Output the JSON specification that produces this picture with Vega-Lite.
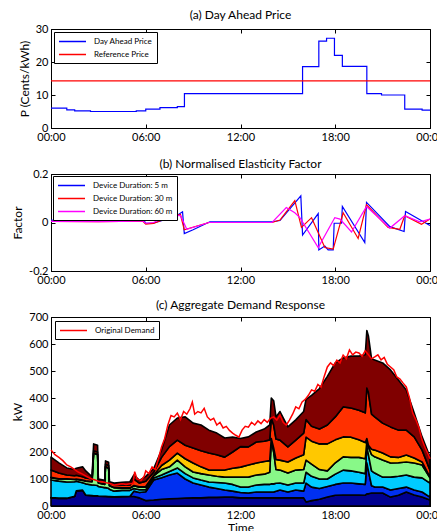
{
  "$schema": "https://vega.github.io/schema/vega-lite/v6.json",
  "autosize": {"type": "none"},
  "padding": {"left": 51, "top": 29, "right": 386, "bottom": 502},
  "bounds": "flush",
  "spacing": 46,
  "resolve": {"scale": {"color": "independent"}, "legend": {"color": "independent"}},
  "config": {
    "font": "Lato",
    "background": "white",
    "view": {"stroke": "black", "strokeWidth": 1},
    "axis": {"domainColor": "black", "tickColor": "black", "labelColor": "black", "titleColor": "black", "labelFontSize": 11, "titleFontSize": 12, "titleFontWeight": "normal", "grid": false, "tickSize": -4, "labelPadding": 7, "labelFont": "Lato", "titleFont": "Lato", "labelFlush": false, "labelOverlap": false},
    "title": {"fontSize": 12, "fontWeight": "normal", "offset": 1, "color": "black", "font": "Lato"},
    "legend": {"orient": "top-left", "strokeColor": "black", "fillColor": "white", "padding": 4, "symbolType": "M-3,0H3", "symbolSize": 81, "symbolStrokeWidth": 1.5, "symbolOffset": 9, "labelOffset": 16, "labelFontSize": 8, "labelFont": "Lato", "labelColor": "black", "rowPadding": 3, "offset": 3, "title": null}
  },
  "vconcat": [
    {
      "width": 379, "height": 99,
      "title": {"text": "(a) Day Ahead Price"},
      "data": {"values": [
        {"t": 0, "p": 6.0, "s": "Day Ahead Price"},
        {"t": 1, "p": 5.5, "s": "Day Ahead Price"},
        {"t": 1.5, "p": 5.2, "s": "Day Ahead Price"},
        {"t": 2.5, "p": 5.0, "s": "Day Ahead Price"},
        {"t": 5.4, "p": 5.2, "s": "Day Ahead Price"},
        {"t": 6, "p": 5.7, "s": "Day Ahead Price"},
        {"t": 6.9, "p": 6.2, "s": "Day Ahead Price"},
        {"t": 8, "p": 6.5, "s": "Day Ahead Price"},
        {"t": 8.45, "p": 10.4, "s": "Day Ahead Price"},
        {"t": 15.93, "p": 18.6, "s": "Day Ahead Price"},
        {"t": 16.96, "p": 26.3, "s": "Day Ahead Price"},
        {"t": 17.45, "p": 27.2, "s": "Day Ahead Price"},
        {"t": 17.95, "p": 22.0, "s": "Day Ahead Price"},
        {"t": 18.45, "p": 18.7, "s": "Day Ahead Price"},
        {"t": 20.0, "p": 10.4, "s": "Day Ahead Price"},
        {"t": 20.93, "p": 10.0, "s": "Day Ahead Price"},
        {"t": 22.4, "p": 5.7, "s": "Day Ahead Price"},
        {"t": 23.5, "p": 5.4, "s": "Day Ahead Price"},
        {"t": 24, "p": 5.4, "s": "Day Ahead Price"},
        {"t": 0, "p": 14.3, "s": "Reference Price"},
        {"t": 24, "p": 14.3, "s": "Reference Price"}
      ]},
      "layer": [
        {
          "mark": {"type": "line", "interpolate": "step-after", "strokeWidth": 1.2},
          "encoding": {
            "x": {"field": "t", "type": "quantitative", "scale": {"domain": [0, 24], "nice": false}, "axis": {"values": [0, 6, 12, 18, 24], "labelExpr": "datum.value == 24 ? '00:00' : (datum.value < 10 ? '0' : '') + datum.value + ':00'", "title": null}},
            "y": {"field": "p", "type": "quantitative", "scale": {"domain": [0, 30], "nice": false}, "axis": {"values": [0, 10, 20, 30], "title": "P (Cents/kWh)"}},
            "color": {"field": "s", "type": "nominal", "scale": {"domain": ["Day Ahead Price", "Reference Price"], "range": ["#0000ff", "#ff0000"]}, "legend": {"offset": 3}}
          }
        },
        {
          "mark": {"type": "line", "opacity": 0},
          "encoding": {
            "x": {"field": "t", "type": "quantitative", "axis": {"orient": "top", "values": [0, 6, 12, 18, 24], "labels": false, "domain": false, "title": null}},
            "y": {"field": "p", "type": "quantitative", "axis": {"orient": "right", "values": [0, 10, 20, 30], "labels": false, "domain": false, "title": null}},
            "detail": {"field": "s"}
          }
        }
      ],
      "resolve": {"axis": {"x": "independent", "y": "independent"}}
    },
    {
      "width": 379, "height": 97,
      "title": {"text": "(b) Normalised Elasticity Factor", "dy": 4},
      "data": {"values": [
        {"t": 0, "f": 0.01, "s": "Device Duration: 5 m"},
        {"t": 0.9, "f": 0.005, "s": "Device Duration: 5 m"},
        {"t": 1.0, "f": 0.01, "s": "Device Duration: 5 m"},
        {"t": 1.5, "f": 0.006, "s": "Device Duration: 5 m"},
        {"t": 3, "f": 0.005, "s": "Device Duration: 5 m"},
        {"t": 5.9, "f": 0.008, "s": "Device Duration: 5 m"},
        {"t": 6.0, "f": -0.003, "s": "Device Duration: 5 m"},
        {"t": 6.5, "f": -0.002, "s": "Device Duration: 5 m"},
        {"t": 7.0, "f": 0.008, "s": "Device Duration: 5 m"},
        {"t": 8.0, "f": 0.03, "s": "Device Duration: 5 m"},
        {"t": 8.33, "f": 0.044, "s": "Device Duration: 5 m"},
        {"t": 8.44, "f": -0.046, "s": "Device Duration: 5 m"},
        {"t": 9.0, "f": -0.03, "s": "Device Duration: 5 m"},
        {"t": 10.06, "f": 0.003, "s": "Device Duration: 5 m"},
        {"t": 14.0, "f": 0.003, "s": "Device Duration: 5 m"},
        {"t": 14.5, "f": 0.008, "s": "Device Duration: 5 m"},
        {"t": 15.82, "f": 0.11, "s": "Device Duration: 5 m"},
        {"t": 15.93, "f": -0.052, "s": "Device Duration: 5 m"},
        {"t": 16.92, "f": 0.037, "s": "Device Duration: 5 m"},
        {"t": 16.96, "f": -0.113, "s": "Device Duration: 5 m"},
        {"t": 17.34, "f": -0.097, "s": "Device Duration: 5 m"},
        {"t": 17.55, "f": -0.113, "s": "Device Duration: 5 m"},
        {"t": 17.87, "f": -0.113, "s": "Device Duration: 5 m"},
        {"t": 17.93, "f": -0.003, "s": "Device Duration: 5 m"},
        {"t": 18.4, "f": -0.003, "s": "Device Duration: 5 m"},
        {"t": 18.45, "f": 0.066, "s": "Device Duration: 5 m"},
        {"t": 19.87, "f": -0.083, "s": "Device Duration: 5 m"},
        {"t": 19.98, "f": 0.083, "s": "Device Duration: 5 m"},
        {"t": 21.46, "f": -0.017, "s": "Device Duration: 5 m"},
        {"t": 22.36, "f": -0.037, "s": "Device Duration: 5 m"},
        {"t": 22.45, "f": 0.045, "s": "Device Duration: 5 m"},
        {"t": 24, "f": -0.012, "s": "Device Duration: 5 m"},
        {"t": 0, "f": 0.005, "s": "Device Duration: 30 m"},
        {"t": 3, "f": 0.004, "s": "Device Duration: 30 m"},
        {"t": 5.8, "f": 0.006, "s": "Device Duration: 30 m"},
        {"t": 6.0, "f": -0.007, "s": "Device Duration: 30 m"},
        {"t": 6.5, "f": -0.004, "s": "Device Duration: 30 m"},
        {"t": 7.8, "f": 0.03, "s": "Device Duration: 30 m"},
        {"t": 8.2, "f": 0.032, "s": "Device Duration: 30 m"},
        {"t": 8.44, "f": -0.03, "s": "Device Duration: 30 m"},
        {"t": 10, "f": 0.0, "s": "Device Duration: 30 m"},
        {"t": 14, "f": 0.0, "s": "Device Duration: 30 m"},
        {"t": 14.5, "f": 0.01, "s": "Device Duration: 30 m"},
        {"t": 15.44, "f": 0.09, "s": "Device Duration: 30 m"},
        {"t": 15.86, "f": -0.02, "s": "Device Duration: 30 m"},
        {"t": 16.5, "f": 0.02, "s": "Device Duration: 30 m"},
        {"t": 17.34, "f": -0.103, "s": "Device Duration: 30 m"},
        {"t": 17.87, "f": -0.11, "s": "Device Duration: 30 m"},
        {"t": 18.5, "f": 0.04, "s": "Device Duration: 30 m"},
        {"t": 19.45, "f": -0.066, "s": "Device Duration: 30 m"},
        {"t": 19.98, "f": 0.073, "s": "Device Duration: 30 m"},
        {"t": 21.35, "f": -0.02, "s": "Device Duration: 30 m"},
        {"t": 22.09, "f": -0.028, "s": "Device Duration: 30 m"},
        {"t": 22.4, "f": 0.028, "s": "Device Duration: 30 m"},
        {"t": 23.46, "f": -0.007, "s": "Device Duration: 30 m"},
        {"t": 24, "f": 0.014, "s": "Device Duration: 30 m"},
        {"t": 0, "f": 0.005, "s": "Device Duration: 60 m"},
        {"t": 3, "f": 0.004, "s": "Device Duration: 60 m"},
        {"t": 5.8, "f": 0.006, "s": "Device Duration: 60 m"},
        {"t": 6.0, "f": -0.003, "s": "Device Duration: 60 m"},
        {"t": 6.5, "f": 0.0, "s": "Device Duration: 60 m"},
        {"t": 7.4, "f": 0.03, "s": "Device Duration: 60 m"},
        {"t": 8.2, "f": 0.028, "s": "Device Duration: 60 m"},
        {"t": 8.6, "f": -0.028, "s": "Device Duration: 60 m"},
        {"t": 10, "f": 0.0, "s": "Device Duration: 60 m"},
        {"t": 14, "f": 0.0, "s": "Device Duration: 60 m"},
        {"t": 14.9, "f": 0.062, "s": "Device Duration: 60 m"},
        {"t": 15.44, "f": 0.04, "s": "Device Duration: 60 m"},
        {"t": 15.76, "f": 0.02, "s": "Device Duration: 60 m"},
        {"t": 16.92, "f": -0.103, "s": "Device Duration: 60 m"},
        {"t": 17.97, "f": 0.02, "s": "Device Duration: 60 m"},
        {"t": 18.3, "f": 0.014, "s": "Device Duration: 60 m"},
        {"t": 19.03, "f": -0.039, "s": "Device Duration: 60 m"},
        {"t": 19.98, "f": 0.066, "s": "Device Duration: 60 m"},
        {"t": 21.46, "f": -0.023, "s": "Device Duration: 60 m"},
        {"t": 22.4, "f": 0.028, "s": "Device Duration: 60 m"},
        {"t": 23.35, "f": 0.003, "s": "Device Duration: 60 m"},
        {"t": 24, "f": 0.014, "s": "Device Duration: 60 m"}
      ]},
      "layer": [
        {
          "mark": {"type": "line", "strokeWidth": 1.2},
          "encoding": {
            "x": {"field": "t", "type": "quantitative", "scale": {"domain": [0, 24], "nice": false}, "axis": {"values": [0, 6, 12, 18, 24], "labelExpr": "datum.value == 24 ? '00:00' : (datum.value < 10 ? '0' : '') + datum.value + ':00'", "title": null}},
            "y": {"field": "f", "type": "quantitative", "scale": {"domain": [-0.2, 0.2], "nice": false}, "axis": {"values": [-0.2, 0, 0.2], "labelExpr": "datum.value == 0 ? '0' : (datum.value > 0 ? '0.2' : '-0.2')", "title": "Factor"}},
            "color": {"field": "s", "type": "nominal", "scale": {"domain": ["Device Duration: 5 m", "Device Duration: 30 m", "Device Duration: 60 m"], "range": ["#0000ff", "#ff0000", "#ff00ff"]}, "legend": {"offset": 2}}
          }
        },
        {
          "mark": {"type": "line", "opacity": 0},
          "encoding": {
            "x": {"field": "t", "type": "quantitative", "axis": {"orient": "top", "values": [0, 6, 12, 18, 24], "labels": false, "domain": false, "title": null}},
            "y": {"field": "f", "type": "quantitative", "axis": {"orient": "right", "values": [-0.2, 0, 0.2], "labels": false, "domain": false, "title": null}},
            "detail": {"field": "s"}
          }
        }
      ],
      "resolve": {"axis": {"x": "independent", "y": "independent"}}
    },
    {
      "width": 379, "height": 189,
      "title": {"text": "(c) Aggregate Demand Response", "dy": 2},
      "layer": [
        {
          "data": {"values": [
            {"t": 0, "L1": 30, "L2": 1, "L3": 65, "L4": 9, "L5": 1, "L6": 27, "L7": 48},
            {"t": 0.5, "L1": 28, "L2": 1, "L3": 63, "L4": 8, "L5": 1, "L6": 21, "L7": 38},
            {"t": 1.0, "L1": 28, "L2": 1, "L3": 60, "L4": 11, "L5": 1, "L6": 14, "L7": 26},
            {"t": 1.5, "L1": 35, "L2": 1, "L3": 54, "L4": 8, "L5": 1, "L6": 13, "L7": 23},
            {"t": 1.6, "L1": 55, "L2": 1, "L3": 36, "L4": 7, "L5": 1, "L6": 14, "L7": 26},
            {"t": 2.0, "L1": 58, "L2": 1, "L3": 27, "L4": 9, "L5": 1, "L6": 12, "L7": 37},
            {"t": 2.2, "L1": 40, "L2": 1, "L3": 41, "L4": 10, "L5": 1, "L6": 11, "L7": 26},
            {"t": 2.6, "L1": 38, "L2": 1, "L3": 39, "L4": 12, "L5": 1, "L6": 9, "L7": 8},
            {"t": 2.7, "L1": 37, "L2": 1, "L3": 40, "L4": 118, "L5": 1, "L6": 8, "L7": 25},
            {"t": 2.95, "L1": 37, "L2": 1, "L3": 38, "L4": 114, "L5": 1, "L6": 9, "L7": 25},
            {"t": 3.0, "L1": 36, "L2": 1, "L3": 35, "L4": 13, "L5": 1, "L6": 9, "L7": 5},
            {"t": 3.4, "L1": 35, "L2": 1, "L3": 32, "L4": 12, "L5": 1, "L6": 9, "L7": 5},
            {"t": 3.45, "L1": 35, "L2": 1, "L3": 32, "L4": 77, "L5": 1, "L6": 9, "L7": 12},
            {"t": 3.65, "L1": 34, "L2": 1, "L3": 31, "L4": 74, "L5": 1, "L6": 9, "L7": 12},
            {"t": 3.7, "L1": 34, "L2": 1, "L3": 27, "L4": 13, "L5": 1, "L6": 9, "L7": 5},
            {"t": 4.0, "L1": 33, "L2": 1, "L3": 21, "L4": 13, "L5": 1, "L6": 11, "L7": 5},
            {"t": 4.5, "L1": 34, "L2": 1, "L3": 23, "L4": 8, "L5": 1, "L6": 11, "L7": 10},
            {"t": 5.0, "L1": 35, "L2": 1, "L3": 22, "L4": 8, "L5": 1, "L6": 11, "L7": 12},
            {"t": 5.25, "L1": 35, "L2": 20, "L3": 10, "L4": 10, "L5": 1, "L6": 24, "L7": 15},
            {"t": 5.6, "L1": 30, "L2": 20, "L3": 10, "L4": 10, "L5": 1, "L6": 14, "L7": 10},
            {"t": 6.0, "L1": 20, "L2": 33, "L3": 7, "L4": 10, "L5": 2, "L6": 20, "L7": 18},
            {"t": 6.5, "L1": 22, "L2": 74, "L3": 8, "L4": 8, "L5": 2, "L6": 11, "L7": 13},
            {"t": 7.0, "L1": 25, "L2": 80, "L3": 10, "L4": 20, "L5": 15, "L6": 30, "L7": 27},
            {"t": 7.5, "L1": 27, "L2": 88, "L3": 13, "L4": 17, "L5": 25, "L6": 50, "L7": 80},
            {"t": 8.0, "L1": 28, "L2": 94, "L3": 19, "L4": 29, "L5": 26, "L6": 48, "L7": 82},
            {"t": 8.5, "L1": 29, "L2": 71, "L3": 20, "L4": 25, "L5": 30, "L6": 50, "L7": 105},
            {"t": 9.0, "L1": 30, "L2": 55, "L3": 19, "L4": 22, "L5": 33, "L6": 56, "L7": 92},
            {"t": 9.5, "L1": 30, "L2": 48, "L3": 18, "L4": 24, "L5": 25, "L6": 60, "L7": 95},
            {"t": 10.0, "L1": 32, "L2": 38, "L3": 19, "L4": 26, "L5": 18, "L6": 63, "L7": 85},
            {"t": 10.5, "L1": 32, "L2": 33, "L3": 22, "L4": 23, "L5": 23, "L6": 57, "L7": 80},
            {"t": 11.0, "L1": 33, "L2": 26, "L3": 26, "L4": 22, "L5": 26, "L6": 48, "L7": 71},
            {"t": 11.5, "L1": 33, "L2": 22, "L3": 25, "L4": 27, "L5": 33, "L6": 60, "L7": 55},
            {"t": 12.0, "L1": 30, "L2": 20, "L3": 20, "L4": 37, "L5": 37, "L6": 76, "L7": 30},
            {"t": 12.5, "L1": 30, "L2": 18, "L3": 22, "L4": 37, "L5": 45, "L6": 67, "L7": 37},
            {"t": 13.0, "L1": 30, "L2": 22, "L3": 26, "L4": 37, "L5": 44, "L6": 78, "L7": 37},
            {"t": 13.5, "L1": 30, "L2": 22, "L3": 28, "L4": 38, "L5": 47, "L6": 75, "L7": 45},
            {"t": 13.85, "L1": 30, "L2": 22, "L3": 28, "L4": 45, "L5": 43, "L6": 77, "L7": 55},
            {"t": 13.95, "L1": 30, "L2": 22, "L3": 30, "L4": 162, "L5": 6, "L6": 76, "L7": 74},
            {"t": 14.1, "L1": 30, "L2": 22, "L3": 30, "L4": 118, "L5": 15, "L6": 85, "L7": 90},
            {"t": 14.25, "L1": 30, "L2": 25, "L3": 29, "L4": 51, "L5": 37, "L6": 76, "L7": 82},
            {"t": 14.5, "L1": 30, "L2": 29, "L3": 26, "L4": 48, "L5": 37, "L6": 74, "L7": 106},
            {"t": 15.0, "L1": 30, "L2": 22, "L3": 26, "L4": 44, "L5": 41, "L6": 56, "L7": 74},
            {"t": 15.5, "L1": 30, "L2": 29, "L3": 26, "L4": 48, "L5": 45, "L6": 66, "L7": 75},
            {"t": 16.0, "L1": 30, "L2": 25, "L3": 30, "L4": 50, "L5": 55, "L6": 80, "L7": 80},
            {"t": 16.15, "L1": 15, "L2": 70, "L3": 40, "L4": 45, "L5": 85, "L6": 65, "L7": 75},
            {"t": 16.5, "L1": 20, "L2": 50, "L3": 40, "L4": 45, "L5": 85, "L6": 55, "L7": 115},
            {"t": 17.0, "L1": 25, "L2": 40, "L3": 35, "L4": 35, "L5": 95, "L6": 55, "L7": 150},
            {"t": 17.5, "L1": 33, "L2": 39, "L3": 28, "L4": 30, "L5": 100, "L6": 70, "L7": 180},
            {"t": 18.0, "L1": 40, "L2": 40, "L3": 38, "L4": 42, "L5": 85, "L6": 85, "L7": 200},
            {"t": 18.5, "L1": 41, "L2": 44, "L3": 48, "L4": 49, "L5": 74, "L6": 111, "L7": 181},
            {"t": 19.0, "L1": 41, "L2": 44, "L3": 45, "L4": 50, "L5": 75, "L6": 108, "L7": 192},
            {"t": 19.5, "L1": 41, "L2": 41, "L3": 43, "L4": 55, "L5": 65, "L6": 110, "L7": 200},
            {"t": 19.9, "L1": 40, "L2": 40, "L3": 40, "L4": 55, "L5": 60, "L6": 110, "L7": 215},
            {"t": 20.0, "L1": 45, "L2": 115, "L3": 60, "L4": 20, "L5": 10, "L6": 187, "L7": 213},
            {"t": 20.1, "L1": 45, "L2": 85, "L3": 60, "L4": 30, "L5": 5, "L6": 195, "L7": 210},
            {"t": 20.3, "L1": 48, "L2": 27, "L3": 55, "L4": 60, "L5": 20, "L6": 130, "L7": 205},
            {"t": 20.5, "L1": 48, "L2": 22, "L3": 52, "L4": 60, "L5": 25, "L6": 123, "L7": 211},
            {"t": 21.0, "L1": 48, "L2": 22, "L3": 37, "L4": 63, "L5": 26, "L6": 111, "L7": 223},
            {"t": 21.5, "L1": 33, "L2": 26, "L3": 48, "L4": 52, "L5": 23, "L6": 111, "L7": 211},
            {"t": 22.0, "L1": 40, "L2": 25, "L3": 45, "L4": 50, "L5": 20, "L6": 101, "L7": 186},
            {"t": 22.5, "L1": 52, "L2": 18, "L3": 45, "L4": 48, "L5": 26, "L6": 92, "L7": 149},
            {"t": 23.0, "L1": 41, "L2": 18, "L3": 48, "L4": 52, "L5": 19, "L6": 78, "L7": 88},
            {"t": 23.5, "L1": 33, "L2": 19, "L3": 52, "L4": 48, "L5": 11, "L6": 44, "L7": 49},
            {"t": 24.0, "L1": 22, "L2": 11, "L3": 52, "L4": 19, "L5": 3, "L6": 26, "L7": 48}
          ]},
          "transform": [{"fold": ["L1", "L2", "L3", "L4", "L5", "L6", "L7"], "as": ["k", "v"]}],
          "mark": {"type": "area", "stroke": "black", "strokeWidth": 1.6, "strokeJoin": "round"},
          "encoding": {
            "x": {"field": "t", "type": "quantitative", "scale": {"domain": [0, 24], "nice": false}, "axis": {"values": [0, 6, 12, 18, 24], "labelExpr": "datum.value == 24 ? '00:00' : (datum.value < 10 ? '0' : '') + datum.value + ':00'", "title": "Time", "titlePadding": 2}},
            "y": {"field": "v", "type": "quantitative", "stack": "zero", "scale": {"domain": [0, 700], "nice": false}, "axis": {"values": [0, 100, 200, 300, 400, 500, 600, 700], "labelOverlap": false, "title": "kW"}},
            "color": {"field": "k", "type": "nominal", "scale": {"domain": ["L1", "L2", "L3", "L4", "L5", "L6", "L7"], "range": ["#000090", "#0030f0", "#00ccff", "#88f888", "#ffc800", "#ff3000", "#800000"]}, "legend": null},
            "order": {"field": "k", "type": "nominal"}
          }
        },
        {
          "data": {"values": [
            {"t": 0, "d": 207}, {"t": 0.25, "d": 190}, {"t": 0.5, "d": 180}, {"t": 0.75, "d": 168}, {"t": 1.0, "d": 152},
            {"t": 1.25, "d": 145}, {"t": 1.5, "d": 135}, {"t": 1.75, "d": 125}, {"t": 2.0, "d": 118}, {"t": 2.25, "d": 110},
            {"t": 2.5, "d": 102}, {"t": 2.75, "d": 97}, {"t": 3.0, "d": 92}, {"t": 3.25, "d": 90}, {"t": 3.5, "d": 86},
            {"t": 3.75, "d": 83}, {"t": 4.0, "d": 78}, {"t": 4.25, "d": 80}, {"t": 4.5, "d": 82}, {"t": 4.75, "d": 80},
            {"t": 5.0, "d": 82}, {"t": 5.2, "d": 85}, {"t": 5.3, "d": 127}, {"t": 5.45, "d": 100}, {"t": 5.7, "d": 95},
            {"t": 5.9, "d": 110}, {"t": 6.0, "d": 130}, {"t": 6.2, "d": 120}, {"t": 6.4, "d": 145}, {"t": 6.6, "d": 135},
            {"t": 6.8, "d": 175}, {"t": 7.0, "d": 219}, {"t": 7.2, "d": 250}, {"t": 7.4, "d": 300}, {"t": 7.6, "d": 335},
            {"t": 7.8, "d": 330}, {"t": 8.0, "d": 344}, {"t": 8.2, "d": 320}, {"t": 8.4, "d": 350}, {"t": 8.6, "d": 340},
            {"t": 8.8, "d": 360}, {"t": 8.95, "d": 385}, {"t": 9.1, "d": 340}, {"t": 9.3, "d": 350}, {"t": 9.5, "d": 345},
            {"t": 9.7, "d": 362}, {"t": 9.9, "d": 330}, {"t": 10.1, "d": 318}, {"t": 10.3, "d": 325}, {"t": 10.5, "d": 300},
            {"t": 10.7, "d": 310}, {"t": 10.9, "d": 289}, {"t": 11.1, "d": 295}, {"t": 11.3, "d": 280}, {"t": 11.5, "d": 270},
            {"t": 11.7, "d": 262}, {"t": 11.9, "d": 255}, {"t": 12.1, "d": 281}, {"t": 12.3, "d": 295}, {"t": 12.5, "d": 292},
            {"t": 12.7, "d": 310}, {"t": 12.9, "d": 300}, {"t": 13.1, "d": 315}, {"t": 13.3, "d": 305}, {"t": 13.5, "d": 320},
            {"t": 13.7, "d": 310}, {"t": 13.9, "d": 325}, {"t": 14.1, "d": 330}, {"t": 14.3, "d": 318}, {"t": 14.5, "d": 337},
            {"t": 14.7, "d": 310}, {"t": 14.9, "d": 300}, {"t": 15.1, "d": 318}, {"t": 15.3, "d": 340}, {"t": 15.5, "d": 367},
            {"t": 15.7, "d": 360}, {"t": 15.9, "d": 385}, {"t": 16.1, "d": 395}, {"t": 16.3, "d": 410}, {"t": 16.5, "d": 430},
            {"t": 16.7, "d": 425}, {"t": 16.9, "d": 450}, {"t": 17.1, "d": 440}, {"t": 17.3, "d": 480}, {"t": 17.5, "d": 515},
            {"t": 17.7, "d": 530}, {"t": 17.9, "d": 520}, {"t": 18.1, "d": 540}, {"t": 18.3, "d": 530}, {"t": 18.5, "d": 559},
            {"t": 18.7, "d": 545}, {"t": 18.9, "d": 578}, {"t": 19.1, "d": 560}, {"t": 19.3, "d": 570}, {"t": 19.5, "d": 567},
            {"t": 19.7, "d": 555}, {"t": 19.9, "d": 575}, {"t": 20.1, "d": 560}, {"t": 20.3, "d": 545}, {"t": 20.5, "d": 552},
            {"t": 20.7, "d": 560}, {"t": 20.9, "d": 541}, {"t": 21.1, "d": 550}, {"t": 21.3, "d": 525}, {"t": 21.5, "d": 515},
            {"t": 21.7, "d": 505}, {"t": 21.9, "d": 478}, {"t": 22.1, "d": 470}, {"t": 22.3, "d": 455}, {"t": 22.5, "d": 441},
            {"t": 22.7, "d": 400}, {"t": 22.9, "d": 345}, {"t": 23.1, "d": 320}, {"t": 23.3, "d": 290}, {"t": 23.5, "d": 244},
            {"t": 23.7, "d": 215}, {"t": 23.9, "d": 190}, {"t": 24.0, "d": 175}
          ]},
          "mark": {"type": "line", "strokeWidth": 1.5},
          "encoding": {
            "x": {"field": "t", "type": "quantitative", "axis": {"orient": "top", "values": [0, 6, 12, 18, 24], "labels": false, "domain": false, "title": null}},
            "y": {"field": "d", "type": "quantitative", "axis": {"orient": "right", "values": [0, 100, 200, 300, 400, 500, 600, 700], "labels": false, "domain": false, "title": null}},
            "color": {"datum": "Original Demand", "scale": {"domain": ["Original Demand"], "range": ["#ff0000"]}, "legend": {"offset": 4}}
          }
        }
      ],
      "resolve": {"scale": {"color": "independent"}, "axis": {"x": "independent", "y": "independent"}}
    }
  ]
}
